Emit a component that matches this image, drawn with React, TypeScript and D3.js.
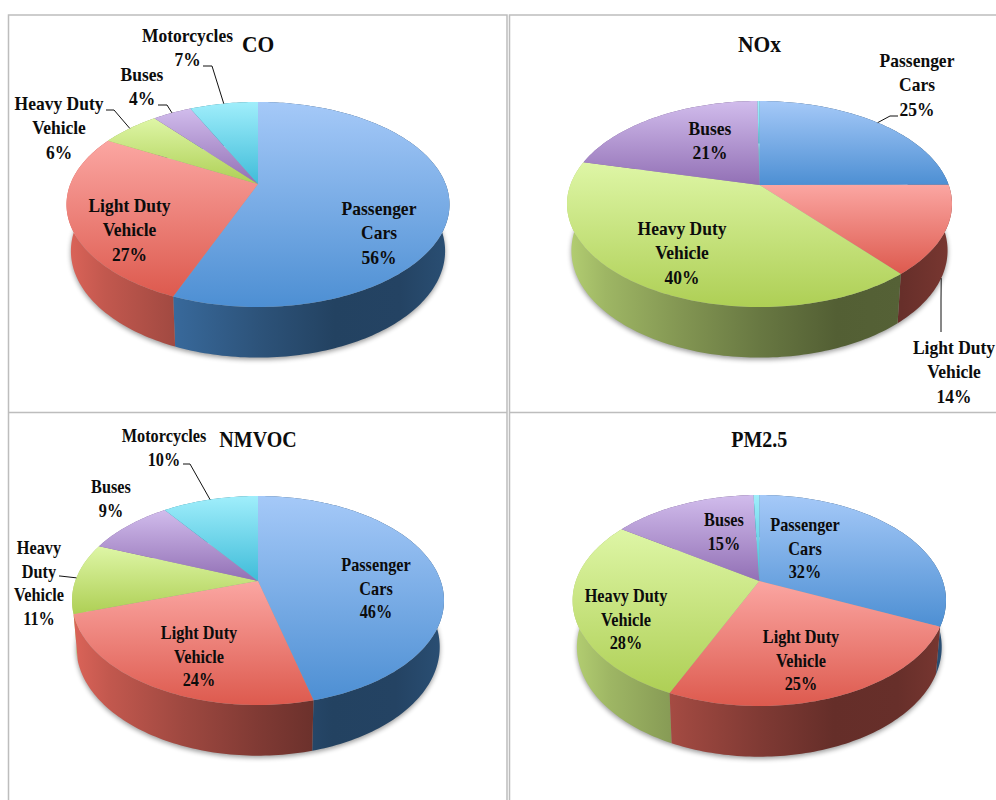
import React from 'react';
import * as d3 from 'd3';

// Emission shares by vehicle class, one list per pollutant.
const categories = ['Passenger Cars', 'Light Duty Vehicle', 'Heavy Duty Vehicle', 'Buses', 'Motorcycles'];
const coShares = [56, 27, 6, 4, 7];
const noxShares = [25, 14, 40, 21, 0.2];
const nmvocShares = [46, 24, 11, 9, 10];
const pm25Shares = [32, 25, 28, 15, 0.6];

type Label = { slice: number; lines: string[]; x: number; y: number; elbow?: [number, number]; end?: [number, number]; fromBase?: boolean };

const FONT = '"Liberation Serif", "Times New Roman", serif';
const STRETCH = 1.12;

// Drum geometry for each pie: apex is the projected centre of the disc,
// back/front are the rim distances from it along the vertical.
const drum = { baseScaleX: 0.977, baseScaleY: 1.04, depth: 46.5 };
const panels = [
  {
    title: 'CO', shares: coShares, titleY: 52, cx: 258, apexY: 184, rx: 191.5, back: 82, front: 123, squeeze: 1, lineStep: 24.3,
    labels: [
      { slice: 0, lines: ['Passenger', 'Cars'], x: 379, y: 215 },
      { slice: 1, lines: ['Light Duty', 'Vehicle'], x: 129.5, y: 212 },
      { slice: 2, lines: ['Heavy Duty', 'Vehicle'], x: 59, y: 110, elbow: [114, 110], end: [106, 110] },
      { slice: 3, lines: ['Buses'], x: 142, y: 81, elbow: [167, 105], end: [158, 105] },
      { slice: 4, lines: ['Motorcycles'], x: 187.5, y: 42, elbow: [212, 66], end: [203, 66] },
    ] as Label[],
  },
  {
    title: 'NOx', shares: noxShares, titleY: 52, cx: 759.5, apexY: 185, rx: 192.5, back: 84, front: 122, squeeze: 1, lineStep: 24.3,
    labels: [
      { slice: 0, lines: ['Passenger', 'Cars'], x: 917, y: 67, elbow: [890, 116], end: [898, 116] },
      { slice: 1, lines: ['Light Duty', 'Vehicle'], x: 954, y: 354, elbow: [941, 300], end: [941, 332], fromBase: true },
      { slice: 2, lines: ['Heavy Duty', 'Vehicle'], x: 682, y: 235 },
      { slice: 3, lines: ['Buses'], x: 710, y: 135 },
    ] as Label[],
  },
  {
    title: 'NMVOC', shares: nmvocShares, titleY: 447, cx: 258, apexY: 581, rx: 186, back: 85, front: 124, squeeze: 0.93, lineStep: 23.6,
    labels: [
      { slice: 0, lines: ['Passenger', 'Cars'], x: 376, y: 571 },
      { slice: 1, lines: ['Light Duty', 'Vehicle'], x: 199, y: 639 },
      { slice: 2, lines: ['Heavy', 'Duty', 'Vehicle'], x: 39, y: 554, elbow: [60, 576], end: [59, 576] },
      { slice: 3, lines: ['Buses'], x: 111, y: 493 },
      { slice: 4, lines: ['Motorcycles'], x: 164, y: 442, elbow: [190, 464], end: [183, 464] },
    ] as Label[],
  },
  {
    title: 'PM2.5', shares: pm25Shares, titleY: 447, cx: 759.3, apexY: 581, rx: 186.7, back: 86, front: 125, squeeze: 0.93, lineStep: 23.6,
    labels: [
      { slice: 0, lines: ['Passenger', 'Cars'], x: 805, y: 531 },
      { slice: 1, lines: ['Light Duty', 'Vehicle'], x: 801, y: 643 },
      { slice: 2, lines: ['Heavy Duty', 'Vehicle'], x: 626, y: 602 },
      { slice: 3, lines: ['Buses'], x: 724, y: 526 },
    ] as Label[],
  },
];

// Top-face gradient ends (light, deep) and the base tone of each wall.
const topColors = [
  ['#a5c9f8', '#4d8fd3'],
  ['#fba6a2', '#dd5a4e'],
  ['#def6a6', '#aecf55'],
  ['#d1bcec', '#9270b5'],
  ['#a0eefb', '#3fbcd9'],
];
const wallColors = ['#4d8fd3', '#dc6459', '#b4cf72', '#9270b5', '#3fbcd9'];
// Horizontal shading across a wall: lit on the left, darkest right of centre.
const wallShade: [number, number][] = [[0, 1], [0.1, 0.88], [0.3, 0.72], [0.5, 0.58], [0.7, 0.46], [0.87, 0.47], [1, 0.55]];

const lineGen = d3.line<[number, number]>();

function makeProjection(p: (typeof panels)[number]) {
  const k = (p.front - p.back) / (p.front + p.back);
  const bY = p.back * (1 + k);
  const aX = p.rx * Math.sqrt(1 - k * k);
  const midY = p.apexY + (p.front - p.back) / 2;
  const top = (theta: number): [number, number] => {
    const u = Math.sin(theta);
    const v = -Math.cos(theta);
    const w = 1 - k * v;
    return [p.cx + (aX * u) / w, p.apexY + (bY * v) / w];
  };
  const base = (theta: number): [number, number] => {
    const [x, y] = top(theta);
    return [p.cx + (x - p.cx) * drum.baseScaleX, midY + (y - midY) * drum.baseScaleY + drum.depth];
  };
  return { top, base };
}

function sweep(a0: number, a1: number): number[] {
  const n = Math.max(2, Math.ceil((a1 - a0) / 0.02));
  const s = d3.scaleLinear().domain([0, n]).range([a0, a1]);
  return d3.range(n + 1).map(i => s(i));
}

function PiePanel({ panel, index }: { panel: (typeof panels)[number]; index: number }) {
  const proj = makeProjection(panel);
  const arcs = d3.pie<number>().sort(null).startAngle(0).endAngle(2 * Math.PI)(panel.shares);
  const ring = sweep(0, 2 * Math.PI);
  const order = arcs.map((a, i) => i).sort((a, b) => {
    const mid = (i: number) => -Math.cos((arcs[i].startAngle + arcs[i].endAngle) / 2);
    return mid(a) - mid(b);
  });
  return (
    <g>
      <defs>
        {arcs.map((_, i) => (
          <React.Fragment key={i}>
            <linearGradient id={`top-${index}-${i}`} x1="0" y1="0" x2="0" y2="1">
              <stop offset="0" stopColor={topColors[i][0]} />
              <stop offset="1" stopColor={topColors[i][1]} />
            </linearGradient>
            <linearGradient id={`wall-${index}-${i}`} gradientUnits="userSpaceOnUse" x1={panel.cx - panel.rx} x2={panel.cx + panel.rx} y1="0" y2="0">
              {wallShade.map(([t, f]) => {
                const c = d3.rgb(wallColors[i]);
                return <stop key={t} offset={t} stopColor={d3.rgb(c.r * f, c.g * f, c.b * f).formatHex()} />;
              })}
            </linearGradient>
          </React.Fragment>
        ))}
      </defs>
      {/* soft ground shadow below the drum */}
      <path
        d={lineGen(ring.map(t => { const [x, y] = proj.base(t); return [x, y + 2] as [number, number]; })) + 'Z'}
        fill="#000"
        opacity={0.4}
        filter="url(#drum-shadow)"
      />
      {order.map(i => {
        const a = arcs[i];
        const angles = sweep(a.startAngle, a.endAngle);
        const outline = [...angles.map(proj.top), ...angles.slice().reverse().map(proj.base)];
        return <path key={i} d={lineGen(outline) + 'Z'} fill={`url(#wall-${index}-${i})`} />;
      })}
      {arcs.map((a, i) => {
        const pts = [[panel.cx, panel.apexY] as [number, number], ...sweep(a.startAngle, a.endAngle).map(proj.top)];
        return <path key={i} d={lineGen(pts) + 'Z'} fill={`url(#top-${index}-${i})`} />;
      })}
      {panel.labels.map(l => {
        if (!l.elbow || !l.end) return null;
        const a = arcs[l.slice];
        const mid = (a.startAngle + a.endAngle) / 2;
        const anchor = l.fromBase ? proj.base(mid) : proj.top(mid);
        return (
          <path key={l.slice} d={lineGen([anchor, l.elbow, l.end]) ?? ''} fill="none" stroke="#111" strokeWidth={1} />
        );
      })}
      {panel.labels.map(l => {
        const text = [...l.lines, `${panel.shares[l.slice]}%`];
        return text.map((line, j) => (
          <text
            key={`${l.slice}-${j}`}
            transform={`translate(${l.x},${l.y + j * panel.lineStep}) scale(${panel.squeeze},${STRETCH})`}
            textAnchor="middle"
            fontFamily={FONT}
            fontWeight="bold"
            fontSize={17.5}
            fill="#0c0c0c"
          >
            {line}
          </text>
        ));
      })}
      <text
        transform={`translate(${panel.cx},${panel.titleY}) scale(${panel.squeeze},${STRETCH})`}
        textAnchor="middle"
        fontFamily={FONT}
        fontWeight="bold"
        fontSize={21.5}
        fill="#0c0c0c"
      >
        {panel.title}
      </text>
    </g>
  );
}

export default function App() {
  const gridColor = '#bdbdbd';
  return (
    <svg
      width={996}
      height={800}
      viewBox="0 0 996 800"
      style={{ position: 'absolute', left: 0, top: 0, background: '#fff' }}
      role="img"
      aria-label={categories.join(', ')}
    >
      <defs>
        <filter id="drum-shadow" x="-10%" y="-10%" width="120%" height="125%">
          <feGaussianBlur stdDeviation="2.5" />
        </filter>
      </defs>
      {/* table grid holding the four pies */}
      <g stroke={gridColor} strokeWidth={1.5} fill="none">
        <path d="M8.5 800V15H507V800" />
        <path d="M509.5 800V15H996" />
        <path d="M8.5 412.5H507" />
        <path d="M509.5 412.5H996" />
      </g>
      {panels.map((p, i) => (
        <PiePanel key={p.title} panel={p} index={i} />
      ))}
    </svg>
  );
}
